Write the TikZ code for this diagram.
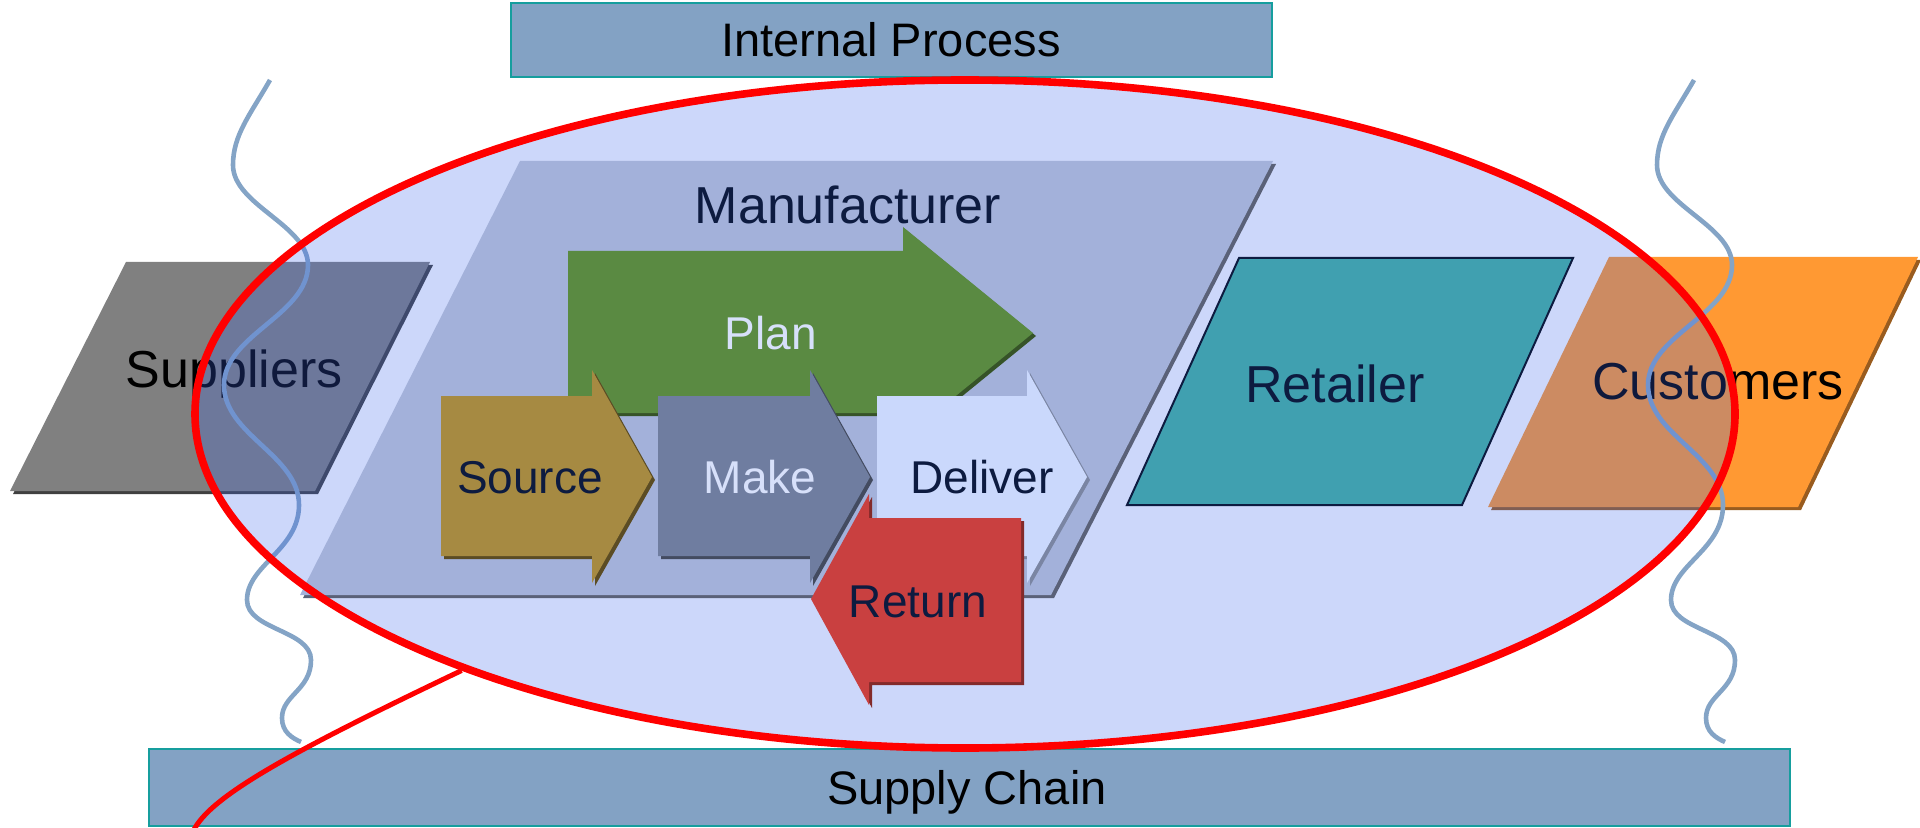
\documentclass[tikz,border=0pt]{standalone}
\usepackage{fontspec}
\setmainfont{Liberation Sans}
\usetikzlibrary{shapes.geometric,shadows}

\definecolor{cbar}{HTML}{83A2C4}
\definecolor{cbarline}{HTML}{169E9E}
\definecolor{ctint}{RGB}{58,100,235}
\definecolor{cwave}{HTML}{84A4C6}
\definecolor{cnavy}{HTML}{0D1B40}
\definecolor{clav}{HTML}{D7E0FA}
\definecolor{cmanu}{HTML}{A3B1DA}
\definecolor{cplan}{HTML}{5A8A42}
\definecolor{csource}{HTML}{A68A42}
\definecolor{cmake}{HTML}{6F7DA0}
\definecolor{cdeliver}{HTML}{CAD8FC}
\definecolor{creturn}{HTML}{C94040}
\definecolor{cretail}{HTML}{40A0B0}
\definecolor{ccust}{HTML}{FF9933}

\begin{document}
\begin{tikzpicture}[x=0.5pt,y=-0.5pt,
    lbl/.style={anchor=base,inner sep=0pt},
    big/.style={lbl,font=\fontsize{26}{30}\selectfont},
    mid/.style={lbl,font=\fontsize{23.5}{28}\selectfont},
    sml/.style={lbl,font=\fontsize{23}{28}\selectfont},
    bar/.style={fill=cbar,draw=cbarline,line width=1pt},
    shd/.style={drop shadow={shadow xshift=1.5pt,shadow yshift=-1.5pt,fill=#1,opacity=1}}]
        \useasboundingbox (0,0) rectangle (1920,828);

        % the two bars
        \draw[bar] (511,3) rectangle (1272,77);
        \node[mid] (IP) at (891,57) {Internal Process};
        \draw[bar] (149,749) rectangle (1790,826);
        \node[mid] (SC) at (967,804) {Supply Chain};

        % outer partners
        \fill[gray,shd=black!75] (126,262) -- (430,262) -- (315,491) -- (10,491) -- cycle;
        \node[big] (S) at (234,387) {Suppliers};
        \fill[ccust,shd=ccust!60!black] (1609,257) -- (1918,257) -- (1798,507) -- (1488,507) -- cycle;
        \node[big] (C) at (1718,400) {Customers};

        % wavy borders
        \foreach \dx in {0,1424}
            \draw[cwave,line width=2.3pt,shift={(\dx,0)}] (270,80)
                .. controls (250,115) and (233,135) .. (233,165)
                .. controls (233,205) and (308,225) .. (308,265)
                .. controls (308,315) and (224,335) .. (224,385)
                .. controls (224,435) and (299,455) .. (299,505)
                .. controls (299,550) and (247,565) .. (247,600)
                .. controls (247,630) and (311,630) .. (311,660)
                .. controls (311,690) and (282,695) .. (282,718)
                .. controls (282,732) and (292,738) .. (301,742);

        \node[ellipse,fill=ctint,fill opacity=0.26,minimum width=772pt,minimum height=336pt,inner sep=0pt] (chain) at (965,414) {};

        % manufacturer
        \fill[cmanu,shd=cmanu!55!black] (520,161) -- (1273,161) -- (1051,595) -- (300,595) -- cycle;
        \node[big,text=cnavy] (M) at (848,224) {Manufacturer};

        \fill[cplan,shd=cplan!60!black] (568,251) -- (903,251) -- (903,227) -- (1033,333) -- (903,439) -- (903,413) -- (568,413) -- cycle;
        \node[sml,text=clav] (P) at (771,350) {Plan};
        \fill[csource,shd=csource!55!black] (441,396) -- (592,396) -- (592,370) -- (652,477) -- (592,583) -- (592,556) -- (441,556) -- cycle;
        \node[sml,text=cnavy] (So) at (530,493) {Source};
        \fill[cmake,shd=cmake!60!black] (658,396) -- (810,396) -- (810,370) -- (870,477) -- (810,583) -- (810,556) -- (658,556) -- cycle;
        \node[sml,text=clav] (Ma) at (760,493) {Make};
        \fill[cdeliver,shd=cmanu!75!black] (877,396) -- (1027,396) -- (1027,370) -- (1087,477) -- (1027,583) -- (1027,556) -- (877,556) -- cycle;
        \node[sml,text=cnavy] (D) at (982,493) {Deliver};
        \fill[creturn,shd=creturn!65!black] (1021,518) -- (869,518) -- (869,494) -- (811,599) -- (869,705) -- (869,682) -- (1021,682) -- cycle;
        \node[sml,text=cnavy] (R) at (918,617) {Return};

        % retailer
        \filldraw[fill=cretail,draw=cnavy,line width=1pt] (1239,258) -- (1573,258) -- (1462,505) -- (1127,505) -- cycle;
        \node[big,text=cnavy] (Re) at (1335,402) {Retailer};

        \node[ellipse,draw=red,line width=3.8pt,minimum width=770pt,minimum height=334pt,inner sep=0pt] (ring) at (chain) {};
        \coordinate (tail) at (192,834);
        \draw[red,line width=2.5pt] (ring.207.7) .. controls (280,757) and (205,800) .. (tail);
\end{tikzpicture}
\end{document}
